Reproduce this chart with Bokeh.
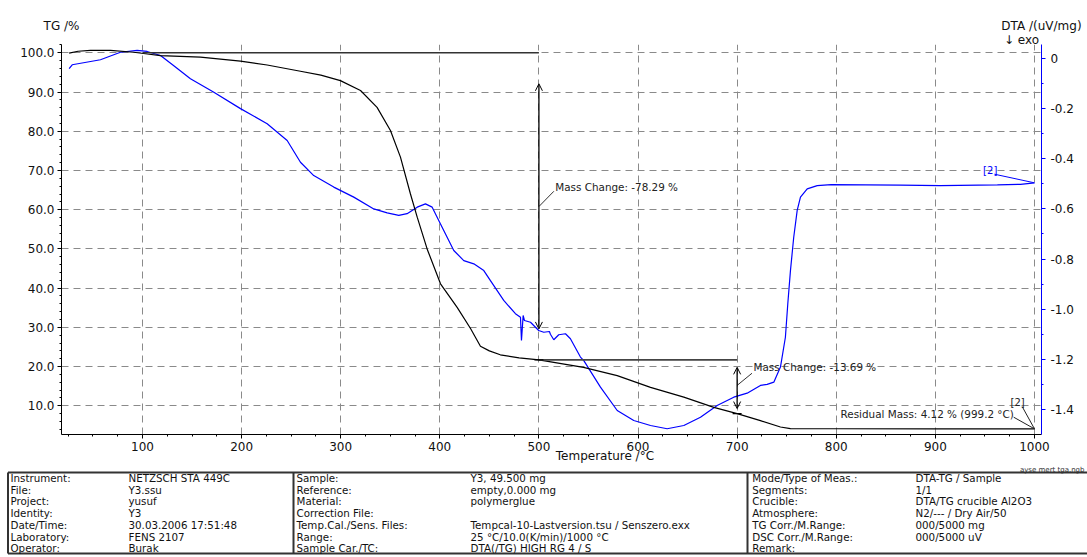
import numpy as np
from bokeh.plotting import figure
from bokeh.models import (Range1d, LinearAxis, Label, Arrow, OpenHead, FixedTicker,
                          SingleIntervalTicker, PrintfTickFormatter, CustomJSTickFormatter)
from bokeh.embed import file_html
from bokeh.resources import INLINE
from bokeh.core.properties import value

# ---------------- data ----------------
tg_temp = [26, 35, 47.5, 67.7, 91.2, 105, 118.2, 158.5, 198.9, 225.8, 259.4,
           280, 299.7, 320, 336.7, 350.2, 360.3, 370.4, 377.2, 387.2, 400.7, 417.5,
           431, 441, 450, 461, 480, 500, 545, 579, 612.6, 646.2, 676.5, 700,
           723.5, 743.7, 753.8, 800, 900, 1000]
tg_val = [99.9, 100.4, 100.6, 100.6, 100.15, 99.7, 99.3, 98.9, 97.9, 96.9, 95.3,
          94.3, 92.9, 90.4, 86.1, 80.2, 73.4, 64.0, 58.1, 50.0, 41.1, 35.1,
          29.7, 25.2, 24.0, 23.0, 22.2, 21.71, 19.8, 17.7, 14.7, 12.2, 9.6, 8.02,
          6.2, 4.6, 4.2, 4.15, 4.13, 4.12]

dta_temp = [26, 29.1, 57.6, 77.8, 94.6, 104.7, 118.2, 131.3, 148.4, 171.6, 198.9,
            225.8, 246, 259.4, 272.8, 293, 313.2, 333.4, 346.9, 358.6, 367,
            377.2, 385.5, 392.3, 400.7, 414.1, 424.2, 434.3, 444.4, 451.1, 464.5,
            476.3, 481.4, 482.4, 484.1, 485.4, 491.5, 499.8, 504.9, 510.6, 511.6,
            515, 520, 526.8, 531.8, 541.9, 545.3, 562.1, 579, 595.7, 612.6,
            629.4, 646.2, 663, 679.8, 696.6, 710.1, 723.5, 730.3, 737, 743.7,
            748.7, 751.1, 753.8, 757.1, 760.6, 763.9, 770.7, 780.8, 794.8, 864.8,
            905, 962.6, 985.9, 1000]
dta_val = [-0.04, -0.025, -0.005, 0.025, 0.032, 0.028, 0.012, -0.028, -0.081, -0.134, -0.2,
           -0.26, -0.327, -0.414, -0.467, -0.513, -0.553, -0.6, -0.616, -0.626, -0.619,
           -0.593, -0.58, -0.593, -0.66, -0.766, -0.806, -0.819, -0.846, -0.886, -0.965,
           -1.018, -1.032, -1.125, -1.025, -1.045, -1.052, -1.085, -1.092, -1.089, -1.10,
           -1.122, -1.102, -1.098, -1.118, -1.191, -1.205, -1.311, -1.404, -1.444, -1.464,
           -1.477, -1.464, -1.431, -1.384, -1.351, -1.335, -1.304, -1.300, -1.291, -1.231,
           -1.112, -0.979, -0.846, -0.713, -0.606, -0.553, -0.520, -0.507, -0.503, -0.505,
           -0.507, -0.504, -0.502, -0.496]

mass_change_1 = -78.29
mass_change_2 = -13.69
residual_mass = 4.12
residual_temp = 999.2

x_title = "Temperature /\u00b0C"
y_title_left = "TG /%"
y_title_right = "DTA /(uV/mg)"
exo_text = "\u2193  exo"

table_left_labels = ["Instrument:", "File:", "Project:", "Identity:", "Date/Time:", "Laboratory:", "Operator:"]
table_left_values = ["NETZSCH STA 449C", "Y3.ssu", "yusuf", "Y3", "30.03.2006 17:51:48", "FENS 2107", "Burak"]
table_mid_labels = ["Sample:", "Reference:", "Material:", "Correction File:", "Temp.Cal./Sens. Files:", "Range:", "Sample Car./TC:"]
table_mid_values = ["Y3, 49.500 mg", "empty,0.000 mg", "polymerglue", "",
                    "Tempcal-10-Lastversion.tsu / Senszero.exx", "25 \u00b0C/10.0(K/min)/1000 \u00b0C",
                    "DTA(/TG) HIGH RG 4 / S"]
table_right_labels = ["Mode/Type of Meas.:", "Segments:", "Crucible:", "Atmosphere:", "TG Corr./M.Range:", "DSC Corr./M.Range:", "Remark:"]
table_right_values = ["DTA-TG / Sample", "1/1", "DTA/TG crucible Al2O3", "N2/--- / Dry Air/50",
                      "000/5000 mg", "000/5000 uV", ""]
file_tag = "ayse mert tga.ngb"

FONT = "DejaVu Sans"
F = value(FONT)
X0, X1 = 18.3, 1007.1

# ---------------- main chart ----------------
p = figure(frame_width=980, frame_height=390,
           x_range=Range1d(X0, X1), y_range=Range1d(2.68, 102.12),
           output_backend="svg", toolbar_location=None,
           min_border_left=61, min_border_right=46, min_border_top=44, min_border_bottom=20,
           outline_line_color=None, background_fill_color="white")
p.extra_y_ranges = {"dta": Range1d(-1.4998, 0.0558)}

xax = p.xaxis[0]
xax.ticker = SingleIntervalTicker(interval=100, num_minor_ticks=4)
yax = p.yaxis[0]
yax.ticker = SingleIntervalTicker(interval=10, num_minor_ticks=5)
yax.formatter = PrintfTickFormatter(format="%.1f")

for ax in (xax, yax):
    ax.axis_line_color = "black"
    ax.major_tick_line_color = "black"
    ax.minor_tick_line_color = "black"
    ax.major_tick_out = 4
    ax.major_tick_in = 0
    ax.minor_tick_out = 2
    ax.minor_tick_in = 0
    ax.major_label_text_font = FONT
    ax.major_label_text_font_size = "12px"
    ax.major_label_text_color = "#111111"
xax.major_label_standoff = 3
yax.major_label_standoff = 3

rax = LinearAxis(y_range_name="dta", ticker=SingleIntervalTicker(interval=0.2, num_minor_ticks=2),
                 formatter=CustomJSTickFormatter(code="return Math.abs(tick) < 1e-9 ? '0' : tick.toFixed(1);"),
                 axis_line_color="blue", major_tick_line_color="blue", minor_tick_line_color="blue",
                 major_tick_out=4, major_tick_in=0, minor_tick_out=2, minor_tick_in=0,
                 major_label_standoff=5, major_label_text_font=FONT,
                 major_label_text_font_size="12px", major_label_text_color="#111111")
p.add_layout(rax, "right")


def title_axis(ticks, texts, standoff):
    return LinearAxis(ticker=FixedTicker(ticks=ticks, minor_ticks=[]),
                      major_label_overrides={t: s for t, s in zip(ticks, texts)},
                      axis_line_color=None, major_tick_line_color=None, minor_tick_line_color=None,
                      major_tick_out=0, major_tick_in=0, major_label_standoff=standoff,
                      major_label_text_font=FONT, major_label_text_font_size="12px",
                      major_label_text_color="#111111")


# axis titles drawn as labels of extra axes (outside the frame)
p.add_layout(title_axis([988.8], [exo_text], -2), "above")
p.add_layout(title_axis([18.35, 1007.05], [y_title_left, y_title_right], -3), "above")
p.add_layout(title_axis([566.6], [x_title], -5), "below")

for g in (p.xgrid[0], p.ygrid[0]):
    g.grid_line_color = "#8a8a8a"
    g.grid_line_dash = "7 5"
    g.grid_line_width = 1

# curves
p.line(dta_temp, dta_val, y_range_name="dta", line_color="#0000ff", line_width=1.2)
p.line(tg_temp, tg_val, line_color="black", line_width=1.2)

# mass change 1 (to 500 C)
tg_at_500 = 100 + mass_change_1
tg_at_700 = tg_at_500 + mass_change_2
p.line([100, 500], [100, 100], line_color="#333333", line_width=1.6)
p.add_layout(Arrow(start=OpenHead(size=7, line_width=1), end=OpenHead(size=7, line_width=1),
                   x_start=500, y_start=29.6, x_end=500, y_end=92.1, line_width=1.3))
p.line([500, 700], [tg_at_500, tg_at_500], line_color="#444444", line_width=1.6)
p.line([500, 515.1], [60.8, 64.7], line_color="#333333", line_width=1)
p.add_layout(Label(x=516.5, y=65.7, text=f"Mass Change: {mass_change_1:.2f} %",
                   text_font=FONT, text_font_size="10.4px", text_baseline="middle",
                   text_color="#222222"))

# mass change 2 (500..700 C)
p.add_layout(Arrow(start=OpenHead(size=7, line_width=1), end=OpenHead(size=7, line_width=1),
                   x_start=700, y_start=9.3, x_end=700, y_end=19.8, line_width=1.3))
p.scatter([500, 700], [tg_at_500, tg_at_700], marker="dash", size=9, line_color="black", line_width=1.2)
p.line([700, 715], [15.2, 18.3], line_color="#333333", line_width=1)
p.add_layout(Label(x=716.5, y=19.84, text=f"Mass Change: {mass_change_2:.2f} %",
                   text_font=FONT, text_font_size="10.4px", text_baseline="middle",
                   text_color="#222222"))

# residual mass
p.line([979, 1000], [7.1, residual_mass], line_color="#222222", line_width=1)
p.line([987.6, 1000], [9.8, residual_mass], line_color="#222222", line_width=1)
p.add_layout(Label(x=804.3, y=7.95, text=f"Residual Mass: {residual_mass:.2f} % ({residual_temp:.1f} \u00b0C)",
                   text_font=FONT, text_font_size="10.4px", text_baseline="middle",
                   text_color="#222222"))
p.add_layout(Label(x=975.8, y=10.8, text="[2]", text_font=FONT, text_font_size="10px",
                   text_baseline="middle", text_color="#222222"))

# DTA end marker
p.line([959.6, 1000], [-0.4615, -0.496], y_range_name="dta", line_color="#0000ff", line_width=1)
p.add_layout(Label(x=948.2, y=-0.448, y_range_name="dta", text="[2]", text_font=FONT,
                   text_font_size="10px", text_baseline="middle", text_color="#0000ff"))

# ---------------- info table ----------------
TW, TH = 1087, 92
t = figure(width=TW, height=TH, x_range=Range1d(0, TW), y_range=Range1d(TH, 0),
           x_axis_type=None, y_axis_type=None, min_border=0,
           output_backend="svg", toolbar_location=None, outline_line_color=None)
t.grid.visible = False

box_top, box_bot, box_left = 7, 88, 7.5
t.segment(x0=[box_left, box_left, box_left, 293, 747], y0=[box_top, box_bot, box_top, box_top, box_top],
          x1=[TW, TW, box_left, 293, 747], y1=[box_top, box_bot, box_bot, box_bot, box_bot],
          line_color="#333333", line_width=2)

rows = [12.5 + 11.7 * i for i in range(len(table_left_labels))]
for xs, texts in ((10, table_left_labels), (128, table_left_values),
                  (296, table_mid_labels), (470, table_mid_values),
                  (751.7, table_right_labels), (915, table_right_values)):
    t.text(x=[xs] * len(texts), y=rows, text=texts, text_font=F, text_font_size="10.3px",
           text_baseline="middle", text_align="left", text_color="#111111")
t.text(x=[1084], y=[0.5], text=[file_tag], text_font=F, text_font_size="7px",
       text_baseline="top", text_align="right", text_color="#333333")

open("out.html", "w").write(file_html([p, t], INLINE))
